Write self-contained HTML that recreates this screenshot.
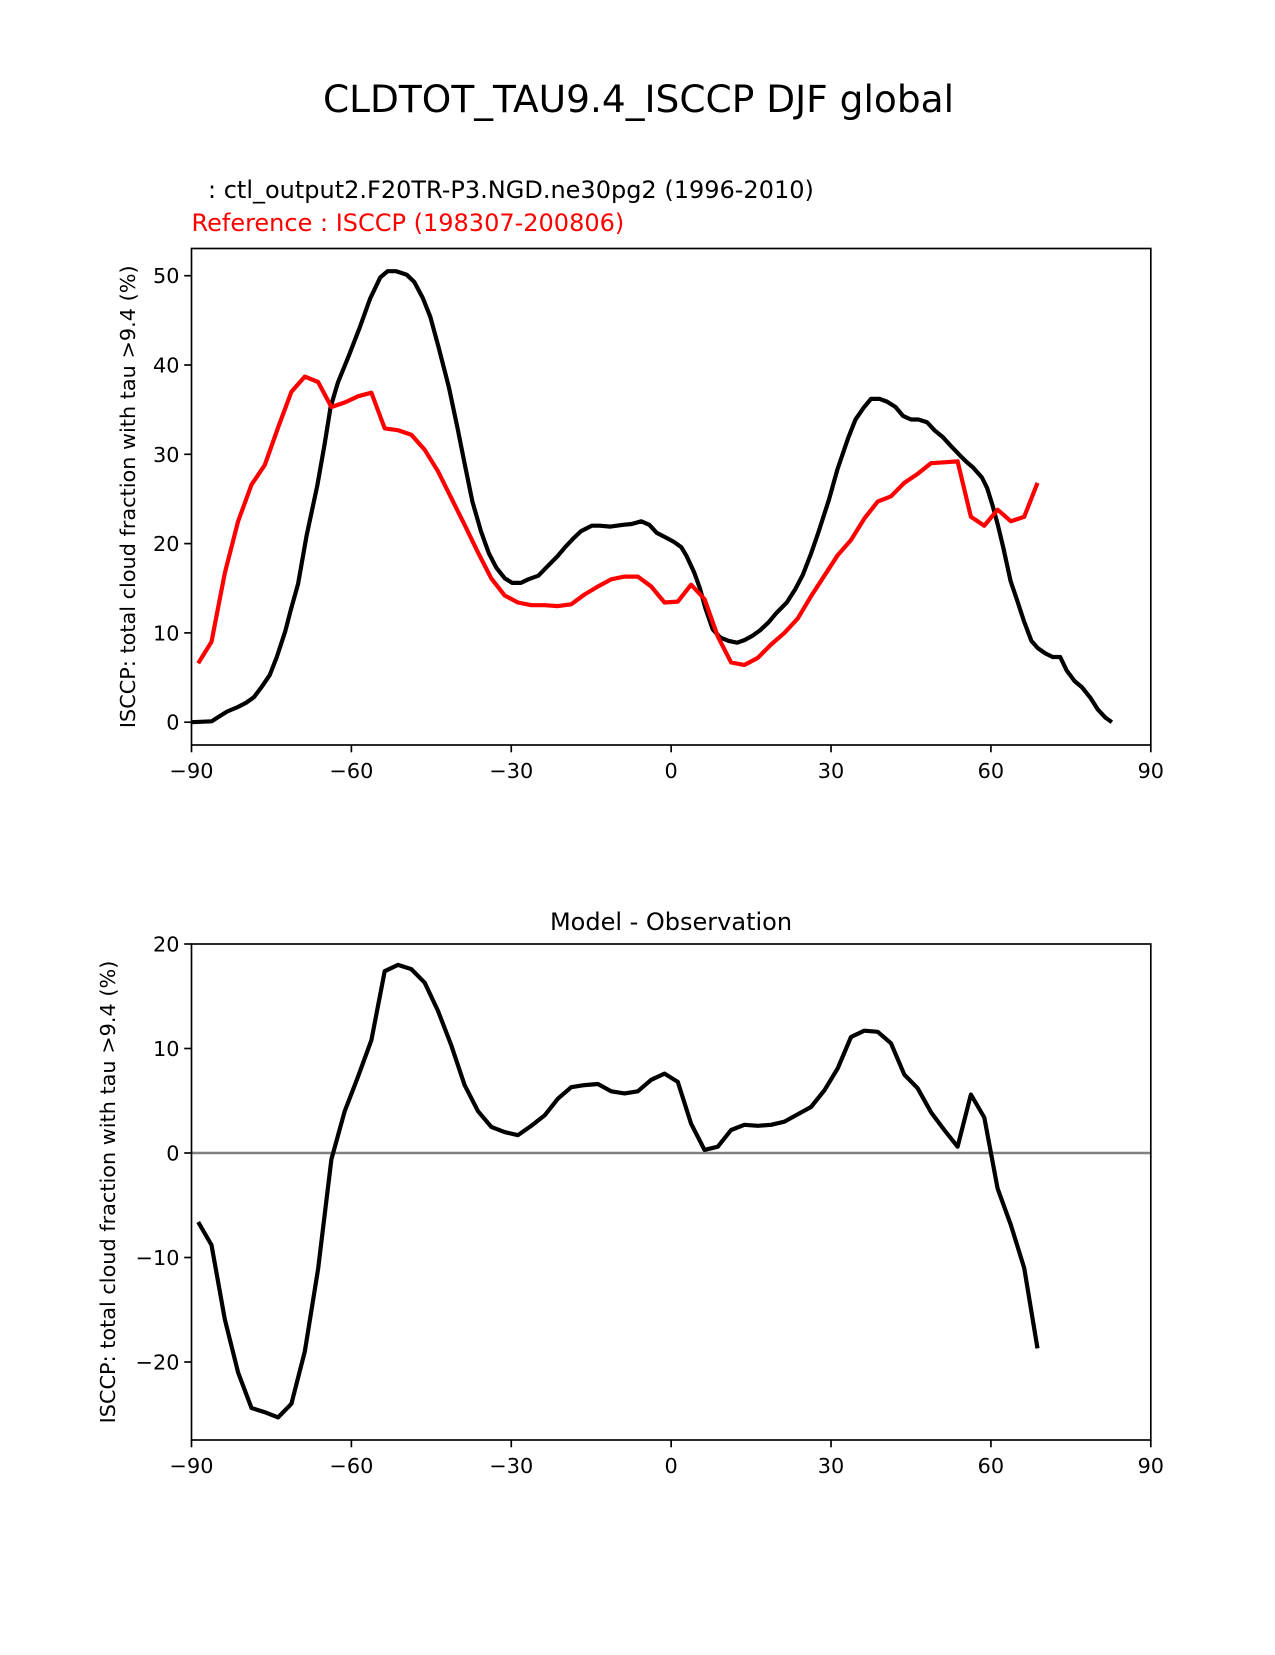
<!DOCTYPE html>
<html><head><meta charset="utf-8"><style>
html,body{margin:0;padding:0;background:#fff;}
svg text{font-family:"DejaVu Sans","Liberation Sans",sans-serif;}
</style></head><body>
<svg id="fig" width="1275" height="1650" viewBox="0 0 1275 1650" xmlns="http://www.w3.org/2000/svg">
<rect width="1275" height="1650" fill="#fff"/>
<text x="638.5" y="112" font-size="37.5" text-anchor="middle">CLDTOT_TAU9.4_ISCCP DJF global</text>
<text x="208" y="198" font-size="24">: ctl_output2.F20TR-P3.NGD.ne30pg2 (1996-2010)</text>
<text x="191.5" y="231" font-size="24" fill="#ff0000">Reference : ISCCP (198307-200806)</text>
<text x="671" y="930" font-size="24" text-anchor="middle">Model - Observation</text>
<g id="top"></g>
<g id="bot"></g>
</svg>
<script>
const modelLat=[-90,-86.2,-84.9,-83.3,-81.3,-79.7,-78.3,-76.9,-75.3,-74.0,-72.4,-71.4,-70.0,-68.4,-66.4,-65.0,-63.9,-62.5,-60.5,-58.5,-56.5,-54.6,-53.2,-51.6,-49.6,-48.2,-46.6,-45.2,-43.7,-41.7,-40.1,-38.7,-37.3,-35.7,-34.2,-32.8,-31.2,-29.8,-28.2,-26.8,-24.9,-23.3,-21.3,-19.9,-18.3,-16.9,-14.9,-13.4,-11.4,-9.0,-7.4,-5.6,-4.1,-2.7,-1.1,0.5,1.9,2.9,4.3,5.4,6.4,7.8,9.2,10.8,12.4,13.8,15.3,16.7,18.3,19.7,21.7,23.3,24.7,26.2,27.6,29.6,31.2,33.2,34.6,36.1,37.5,39.1,40.5,42.1,43.5,45.0,46.4,48.0,49.4,51.0,52.4,54.0,55.3,56.7,58.3,59.3,60.3,61.3,62.3,63.7,64.9,66.2,67.6,68.8,70.2,71.6,73.0,74.2,75.7,77.1,78.7,80.1,81.5,82.7];
const modelVal=[0,0.1,0.6,1.2,1.7,2.2,2.8,3.9,5.3,7.3,10.2,12.5,15.5,20.9,26.5,31.2,35.3,38.1,41.0,44.1,47.4,49.8,50.5,50.5,50.1,49.3,47.5,45.4,42.1,37.5,33.0,28.8,24.7,21.4,18.9,17.3,16.1,15.6,15.6,16.0,16.4,17.4,18.6,19.6,20.6,21.4,22.0,22.0,21.9,22.1,22.2,22.5,22.1,21.2,20.7,20.2,19.6,18.6,16.8,15.0,12.8,10.4,9.5,9.1,8.9,9.2,9.7,10.3,11.2,12.2,13.4,14.9,16.5,18.8,21.2,24.9,28.3,31.8,33.9,35.2,36.2,36.2,35.9,35.3,34.3,33.9,33.9,33.6,32.7,31.9,31.0,30.0,29.2,28.5,27.4,26.2,24.3,22.1,19.6,15.8,13.7,11.3,9.1,8.3,7.7,7.3,7.3,5.8,4.6,3.9,2.7,1.4,0.5,0];
const obsStart=-88.75, obsStep=2.5;
const obsVal=[6.6,9.0,16.7,22.5,26.6,28.8,33.0,37.0,38.7,38.1,35.3,35.8,36.5,36.9,32.9,32.7,32.2,30.5,28.1,25.1,22.1,19.0,16.1,14.2,13.4,13.1,13.1,13.0,13.2,14.3,15.2,16.0,16.3,16.3,15.2,13.4,13.5,15.4,13.8,9.6,6.7,6.4,7.2,8.7,10.0,11.6,14.1,16.4,18.7,20.4,22.8,24.7,25.3,26.8,27.8,29.0,29.1,29.2,23.0,22.0,23.8,22.5,23.0,26.8];
const diffVal=[-6.6,-8.8,-15.9,-21,-24.4,-24.8,-25.3,-24.0,-19,-11.1,-0.6,4.0,7.3,10.8,17.4,18.0,17.6,16.3,13.6,10.3,6.5,4.0,2.5,2.0,1.7,2.6,3.6,5.2,6.3,6.5,6.6,5.9,5.7,5.9,7.0,7.6,6.8,2.8,0.3,0.6,2.2,2.7,2.6,2.7,3.0,3.7,4.4,6.0,8.1,11.1,11.7,11.6,10.5,7.5,6.2,3.9,2.2,0.6,5.6,3.4,-3.4,-6.9,-11,-18.7];
const xTicks=[-90,-60,-30,0,30,60,90];
const topYTicks=[0,10,20,30,40,50];
const botYTicks=[-20,-10,0,10,20];

const NS="http://www.w3.org/2000/svg";
function mk(parent,tag,attrs,txt){const e=document.createElementNS(NS,tag);for(const k in attrs)e.setAttribute(k,attrs[k]);if(txt!==undefined)e.textContent=txt;parent.appendChild(e);return e;}
const L=191.5,R=1150.8;
const xs=v=>L+(v+90)/180*(R-L);
function lab(v){return v<0?"\u2212"+Math.abs(v):String(v);}
function axes(g,top,bot,ys,yticks,ylabelX,prefix){
  xTicks.forEach(t=>{
    const tk=mk(g,"line",{x1:xs(t),x2:xs(t),y1:bot,y2:bot+7.3,stroke:"#000","stroke-width":1.67});
    
    
    const tl=mk(g,"text",{x:xs(t),y:bot+33,"font-size":20.8,"text-anchor":"middle"},lab(t));
    
    
  });
  yticks.forEach(t=>{
    const tk=mk(g,"line",{x1:L-7.3,x2:L,y1:ys(t),y2:ys(t),stroke:"#000","stroke-width":1.67});
    
    
    const tl=mk(g,"text",{x:L-12,y:ys(t)+7.5,"font-size":20.8,"text-anchor":"end"},lab(t));
    
    
  });
  const cy=(top+bot)/2;
  const yl=mk(g,"text",{x:ylabelX,y:cy,"font-size":20.8,"text-anchor":"middle","dominant-baseline":"central",transform:`rotate(-90 ${ylabelX} ${cy})`},"ISCCP: total cloud fraction with tau >9.4 (%)");
  
  
}
function frame(g,top,bot,prefix){
  const f=mk(g,"rect",{x:L,y:top,width:R-L,height:bot-top,fill:"none",stroke:"#000","stroke-width":1.67});
  
  
}
function line(g,xsArr,ysArr,color,name){
  const d=xsArr.map((x,i)=>(i?"L":"M")+x.toFixed(1)+","+ysArr[i].toFixed(1)).join("");
  const p=mk(g,"path",{d:d,fill:"none",stroke:color,"stroke-width":4.2,"stroke-linejoin":"round"});
  
  
}
// top
const gT=document.getElementById("top");
const tTop=248.5,tBot=745;
const yT=v=>722.2-v*8.93;
axes(gT,tTop,tBot,yT,topYTicks,128,"top");
line(gT,modelLat.map(xs),modelVal.map(yT),"#000","model-line");
line(gT,obsVal.map((v,i)=>xs(obsStart+i*obsStep)),obsVal.map(yT),"#ff0000","reference-line");
frame(gT,tTop,tBot,"top");
// bottom
const gB=document.getElementById("bot");
const bTop=944,bBot=1440;
const yB=v=>1153-v*10.45;
axes(gB,bTop,bBot,yB,botYTicks,108,"diff");
const z=mk(gB,"line",{x1:L,x2:R,y1:yB(0),y2:yB(0),stroke:"#808080","stroke-width":2.5});


line(gB,diffVal.map((v,i)=>xs(obsStart+i*obsStep)),diffVal.map(yB),"#000","difference-line");
frame(gB,bTop,bBot,"diff");
</script>
</body></html>
